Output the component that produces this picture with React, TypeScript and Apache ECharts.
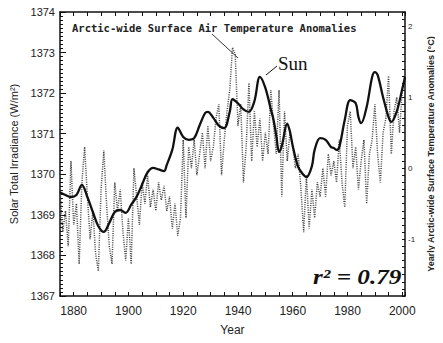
import React, { useEffect, useRef } from "react";
import * as echarts from "echarts";

// Solar total irradiance (W/m²), smoothed curve: [year, value]
const sunYears = [1875,1877,1879,1881,1883,1885,1887,1889,1891,1893,1895,1897,1899,1901,1903,1905,1907,1909,1911,1913,1914,1916,1918,1920,1922,1924,1926,1928,1929,1931,1933,1935,1937,1938,1940,1942,1944,1946,1948,1950,1952,1953,1954,1955,1956,1958,1959,1960,1962,1964,1965,1967,1968,1970,1972,1974,1975,1976,1977,1979,1981,1983,1984,1985,1987,1989,1990,1991,1993,1995,1996,1998,2000,2001];
const sunValues = [1369.56,1369.49,1369.44,1369.49,1369.74,1369.44,1369.07,1368.72,1368.58,1368.8,1369.07,1369.12,1369.05,1369.25,1369.45,1369.75,1370.05,1370.16,1370.12,1370.08,1370.23,1370.6,1371.15,1370.92,1370.85,1370.89,1371.21,1371.51,1371.54,1371.39,1371.2,1371.14,1371.54,1371.85,1371.75,1371.6,1371.54,1371.8,1372.4,1372.13,1371.6,1371.34,1370.95,1370.55,1370.7,1371.25,1371.05,1370.7,1370.18,1369.98,1369.93,1370.2,1370.6,1370.89,1370.85,1370.67,1370.65,1370.6,1370.67,1371.34,1371.83,1371.75,1371.41,1371.26,1371.66,1372.4,1372.52,1372.45,1371.9,1371.41,1371.29,1371.55,1372.1,1372.4];

// Yearly Arctic-wide surface air temperature anomaly (°C), 1875..2000
const tempStartYear = 1875;
const tempValues = [
  -0.3,-0.9,-0.6,-1.1,0.1,-0.8,-0.5,-1.35,-0.2,0.3,
  -0.4,-1.0,-0.6,-1.2,-1.45,-0.3,0.25,-0.5,-1.1,-1.35,
  -0.2,-0.6,-0.3,-0.9,-1.3,-0.7,-1.35,0.0,-0.4,-0.8,
  -0.2,-0.5,-0.1,-0.55,-0.3,-0.6,-0.2,-0.45,-0.25,-0.6,
  -0.4,-0.85,-0.5,-0.95,-0.7,0.4,-0.7,0.3,0.0,0.4,
  -0.1,0.2,0.5,0.0,0.6,0.1,0.3,0.7,0.9,-0.1,
  0.4,0.8,1.1,1.7,1.6,0.6,0.9,-0.2,0.3,1.2,
  0.1,0.8,0.3,0.7,0.1,0.5,0.2,1.1,0.6,0.2,
  1.1,-0.4,0.8,0.1,0.5,0.3,0.0,0.2,-0.3,-0.9,
  -0.1,-0.85,-0.3,-0.7,-0.2,-0.4,0.0,-0.4,0.2,-0.1,
  0.1,-0.2,0.4,-0.2,-0.55,0.6,0.8,0.0,0.3,-0.3,
  0.1,0.4,-0.5,0.2,0.4,0.9,0.2,-0.2,0.5,0.7,
  1.3,0.2,0.8,1.0,0.5,1.1
];

const xLabelYears = [1880, 1900, 1920, 1940, 1960, 1980, 2000];
const leftTicks = [1367, 1368, 1369, 1370, 1371, 1372, 1373, 1374];
const rightLabels = [-1, 0, 1, 2];

export default function App() {
  const ref = useRef<HTMLDivElement>(null);
  useEffect(() => {
    if (!ref.current) return;
    const chart = echarts.init(ref.current, null, { renderer: "svg" });
    const sunData = sunYears.map((y, i) => [y, sunValues[i]]);
    const tempData = tempValues.map((v, i) => [tempStartYear + i, v]);
    const axisColor = "#111";
    const font = "Liberation Sans";
    chart.setOption({
      animation: false,
      backgroundColor: "#fff",
      grid: { left: 60, top: 12, right: 28, bottom: 47 },
      xAxis: [
        {
          type: "value",
          min: 1875,
          max: 2001,
          interval: 5,
          position: "bottom",
          name: "Year",
          nameLocation: "middle",
          nameGap: 28,
          nameTextStyle: { fontSize: 12, color: "#222", fontFamily: font },
          axisLine: { show: true, onZero: false, lineStyle: { color: axisColor, width: 1.5 } },
          axisTick: { show: true, inside: true, length: 4, lineStyle: { color: axisColor } },
          axisLabel: {
            margin: 9,
            fontSize: 12,
            color: "#222",
            fontFamily: font,
            formatter: (v: number) => (xLabelYears.includes(Math.round(v)) && Math.abs(v - Math.round(v)) < 1e-6 ? String(Math.round(v)) : ""),
          },
          splitLine: { show: false },
        },
        {
          type: "value",
          min: 1875,
          max: 2001,
          interval: 5,
          position: "top",
          axisLine: { show: true, onZero: false, lineStyle: { color: axisColor, width: 1.5 } },
          axisTick: { show: true, inside: true, length: 4, lineStyle: { color: axisColor } },
          axisLabel: { show: false },
          splitLine: { show: false },
        },
      ],
      yAxis: [
        {
          type: "value",
          min: 1367,
          max: 1374,
          interval: 1,
          position: "left",
          name: "Solar Total Irradiance (W/m²)",
          nameLocation: "middle",
          nameRotate: 90,
          nameGap: 40,
          nameTextStyle: { fontSize: 11, color: "#222", fontFamily: font },
          axisLine: { show: true, onZero: false, lineStyle: { color: axisColor, width: 1.5 } },
          axisTick: { show: true, inside: true, length: 6, lineStyle: { color: axisColor } },
          minorTick: { show: true, splitNumber: 10, length: 3, lineStyle: { color: axisColor } },
          axisLabel: {
            margin: 5,
            fontSize: 11,
            color: "#222",
            fontFamily: font,
            formatter: (v: number) => (leftTicks.includes(Math.round(v)) ? String(Math.round(v)) : ""),
          },
          splitLine: { show: false },
        },
        {
          type: "value",
          min: -1.8,
          max: 2.2,
          interval: 0.1,
          position: "right",
          name: "Yearly Arctic-wide Surface Temperature Anomalies (°C)",
          nameLocation: "middle",
          nameRotate: 90,
          nameGap: 16,
          nameTextStyle: { fontSize: 9, color: "#222", fontFamily: font, fontWeight: "bold" },
          axisLine: { show: true, onZero: false, lineStyle: { color: axisColor, width: 1.5 } },
          axisTick: { show: true, inside: true, length: 3, lineStyle: { color: axisColor } },
          axisLabel: {
            margin: 3,
            fontSize: 8,
            color: "#222",
            fontFamily: font,
            formatter: (v: number) => {
              const r = Math.round(v);
              return Math.abs(v - r) < 1e-6 && rightLabels.includes(r) ? String(r) : "";
            },
          },
          splitLine: { show: false },
        },
      ],
      series: [
        {
          type: "line",
          name: "Temperature",
          xAxisIndex: 0,
          yAxisIndex: 1,
          data: tempData,
          showSymbol: false,
          lineStyle: { color: "#444", width: 1.5, type: [1, 1.3] },
          z: 2,
        },
        {
          type: "line",
          name: "Sun",
          xAxisIndex: 0,
          yAxisIndex: 0,
          data: sunData,
          smooth: 0.35,
          showSymbol: false,
          lineStyle: { color: "#111", width: 2.3 },
          z: 3,
        },
      ],
      graphic: [
        {
          type: "text",
          x: 72,
          y: 28,
          style: {
            text: "Arctic-wide Surface Air Temperature Anomalies",
            font: "bold 10.5px 'DejaVu Sans Mono'",
            fill: "#222",
            textVerticalAlign: "middle",
          },
        },
        {
          type: "line",
          shape: { x1: 212, y1: 34, x2: 238, y2: 58 },
          style: { stroke: "#333", lineWidth: 1 },
        },
        {
          type: "text",
          x: 278,
          y: 63,
          style: {
            text: "Sun",
            font: "19px 'Liberation Serif'",
            fill: "#111",
            textVerticalAlign: "middle",
          },
        },
        {
          type: "line",
          shape: { x1: 266, y1: 75, x2: 277, y2: 66 },
          style: { stroke: "#111", lineWidth: 1 },
        },
        {
          type: "text",
          x: 313,
          y: 277,
          scaleX: 1.2,
          style: {
            text: "r² = 0.79",
            font: "italic bold 21px 'Liberation Serif'",
            fill: "#111",
            textVerticalAlign: "middle",
          },
        },
      ],
    });
    return () => chart.dispose();
  }, []);
  return <div ref={ref} style={{ width: 443, height: 343, margin: -8 }} />;
}
